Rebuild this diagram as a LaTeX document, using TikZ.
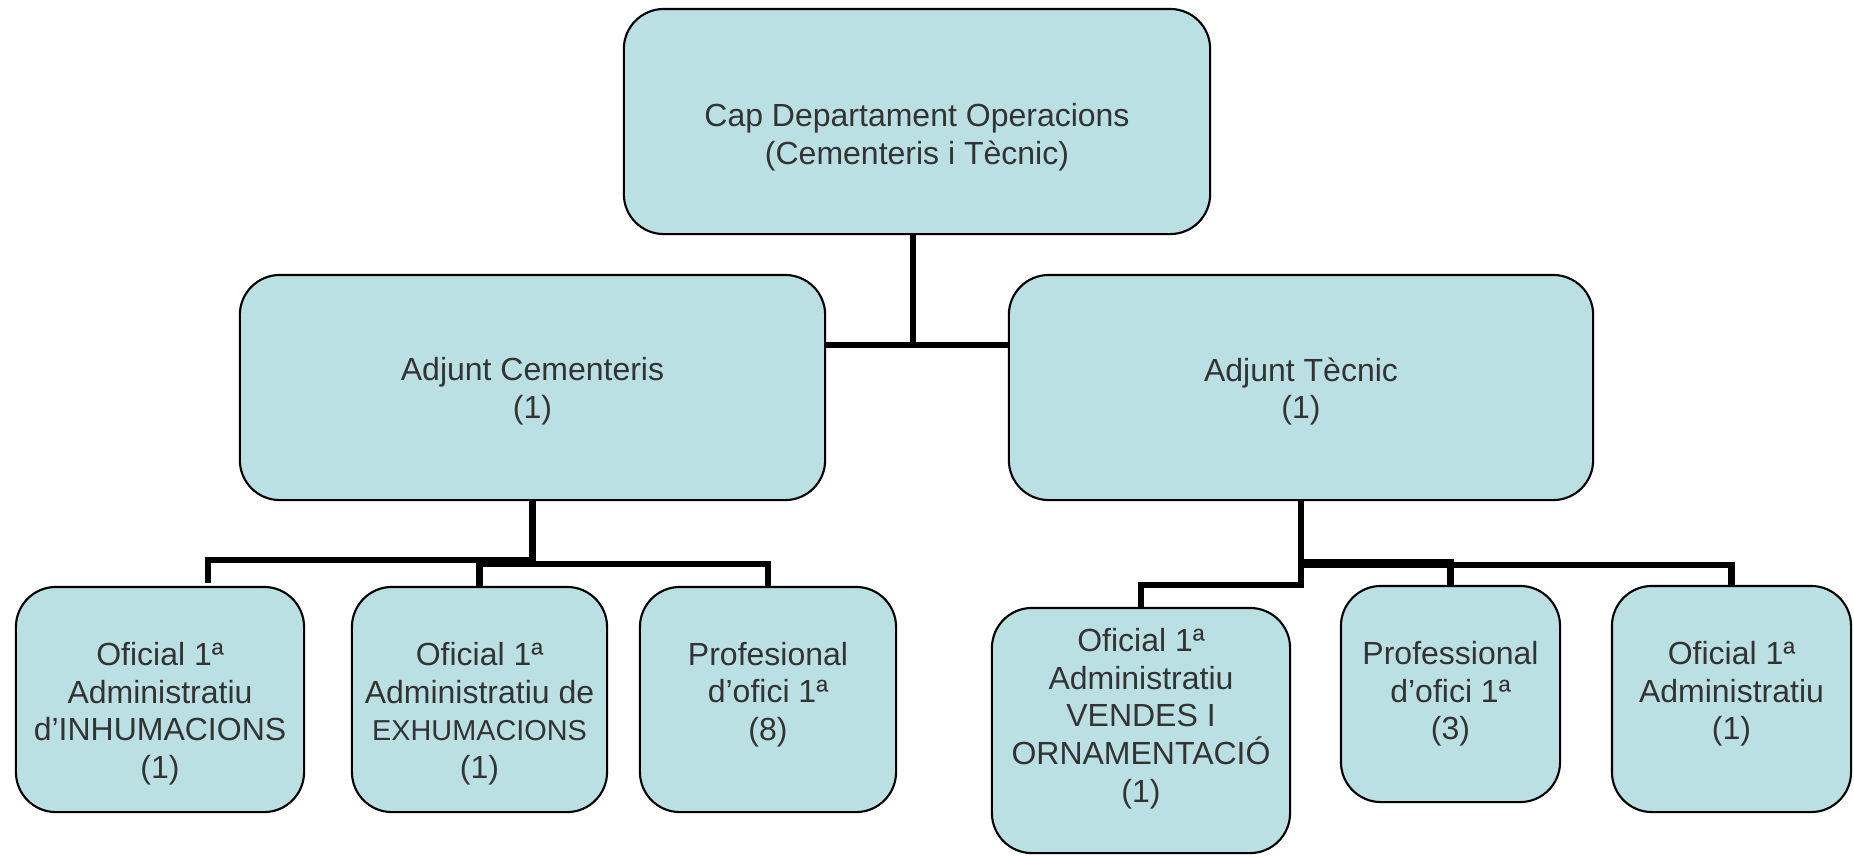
\documentclass[tikz,border=0pt]{standalone}
\usepackage{fontspec}
\setmainfont{Liberation Sans}
\definecolor{boxfill}{HTML}{BBE0E3}
\definecolor{boxtext}{HTML}{333333}
\tikzset{
  unit/.style={draw=black, line width=0.6pt, fill=boxfill, rounded corners=0.4cm,
    inner sep=0pt, outer sep=0pt},
  txt/.style={text=boxtext, align=center, inner sep=0pt,
    font=\fontsize{9.1}{10.7}\selectfont},
  link/.style={line width=1.8pt},
}
\begin{document}
\begin{tikzpicture}[x=0.01cm,y=-0.01cm]
\useasboundingbox (0,0) rectangle (1854,856);
% boxes
\node[unit, minimum width=5.86cm, minimum height=2.25cm] (cap) at (917,121.5) {};
\node[unit, minimum width=5.85cm, minimum height=2.25cm] (adjc) at (532.5,387.5) {};
\node[unit, minimum width=5.84cm, minimum height=2.25cm] (adjt) at (1301,387.5) {};
\node[unit, minimum width=2.88cm, minimum height=2.25cm] (inhum) at (160,699.5) {};
\node[unit, minimum width=2.55cm, minimum height=2.25cm] (exhum) at (479.5,699.5) {};
\node[unit, minimum width=2.56cm, minimum height=2.25cm] (prof) at (768,699.5) {};
\node[unit, minimum width=2.98cm, minimum height=2.45cm] (vendes) at (1141,730.5) {};
\node[unit, minimum width=2.19cm, minimum height=2.16cm] (profb) at (1450.5,694) {};
\node[unit, minimum width=2.39cm, minimum height=2.26cm] (admin) at (1731.5,699) {};
% texts
\node[txt] (cap-t) at ([yshift=-0.16cm]cap.center) {Cap Departament Operacions\\(Cementeris i Tècnic)};
\node[txt] (adjc-t) at ([yshift=-0.04cm]adjc.center) {Adjunt Cementeris\\(1)};
\node[txt] (adjt-t) at ([yshift=-0.04cm]adjt.center) {Adjunt Tècnic\\(1)};
\node[txt] (inhum-t) at ([yshift=-0.14cm]inhum.center) {Oficial 1ª\\Administratiu\\d’INHUMACIONS\\(1)};
\node[txt] (exhum-t) at ([yshift=-0.14cm]exhum.center) {Oficial 1ª\\Administratiu de\\{\fontsize{8.2}{10.7}\selectfont EXHUMACIONS}\\(1)};
\node[txt] (prof-t) at ([yshift=0.05cm]prof.center) {Profesional\\d’ofici 1ª\\(8)};
\node[txt] (vendes-t) at ([yshift=0.12cm]vendes.center) {Oficial 1ª\\Administratiu\\VENDES I\\ORNAMENTACIÓ\\(1)};
\node[txt] (profb-t) at (profb.center) {Professional\\d’ofici 1ª\\(3)};
\node[txt] (admin-t) at ([yshift=0.05cm]admin.center) {Oficial 1ª\\Administratiu\\(1)};
% links
\draw[link] ([xshift=-0.04cm]cap.south) -- ++(0,111) coordinate (hub);
\draw[link] (adjc.east |- hub) -- (adjt.west |- hub);
\draw[link, shorten >=0.04cm] (adjc.south) -- ++(0,60) -| ([xshift=0.48cm]inhum.north);
\draw[link] (adjc.south) -- ++(0,64) -| (exhum.north);
\draw[link] (adjc.south) -- ++(0,64) -| (prof.north);
\draw[link] (adjt.south) -- ++(0,85) -| (vendes.north);
\draw[link] (adjt.south) -- ++(0,62) -| (profb.north);
\draw[link] (adjt.south) -- ++(0,65) -| (admin.north);
\end{tikzpicture}
\end{document}
